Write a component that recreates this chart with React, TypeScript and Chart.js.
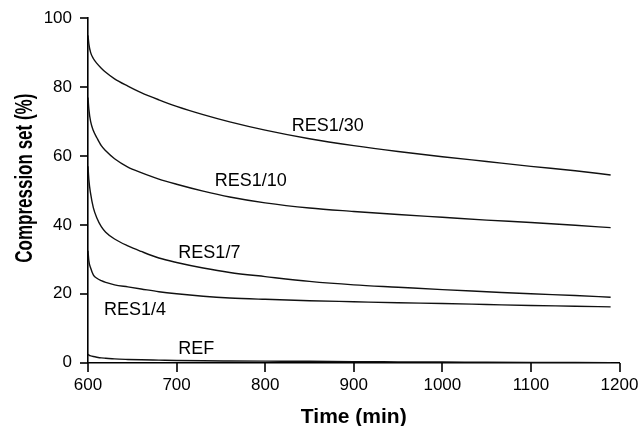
import React, { useEffect, useRef } from "react";
import { Chart, registerables } from "chart.js";

Chart.register(...registerables);

const times = [600, 601, 603, 606, 610, 615, 620, 630, 645, 660, 680, 700, 730, 760, 800, 850, 900, 950, 1000, 1050, 1100, 1150, 1190];

const res30 = [95, 92.5, 90, 88.3, 86.9, 85.5, 84.3, 82.4, 80.3, 78.4, 76.3, 74.4, 72.0, 69.9, 67.5, 65.0, 63.0, 61.3, 59.8, 58.4, 57.0, 55.7, 54.5];
const res10 = [77, 73.5, 70, 67.4, 65.3, 63.0, 61.5, 59.2, 56.8, 55.2, 53.3, 51.8, 49.8, 48.1, 46.4, 44.9, 43.9, 43.0, 42.2, 41.4, 40.7, 39.9, 39.2];
const res7 = [57, 53, 49, 45, 42, 39.5, 37.9, 35.9, 33.9, 32.3, 30.4, 29.1, 27.5, 26.2, 25.0, 23.6, 22.6, 21.9, 21.2, 20.6, 20.0, 19.5, 19.0];
const res4 = [32.5, 29.5, 27.5, 25.5, 24.5, 23.8, 23.3, 22.6, 22.0, 21.4, 20.6, 20.0, 19.3, 18.8, 18.4, 18.0, 17.7, 17.4, 17.2, 16.9, 16.6, 16.4, 16.2];
const ref = [2.5, 2.2, 2.0, 1.8, 1.6, 1.4, 1.3, 1.1, 0.95, 0.85, 0.75, 0.65, 0.55, 0.5, 0.45, 0.4, 0.3, 0.25, 0.2, 0.15, 0.1, 0.05, 0];

const seriesNames = ["RES1/30", "RES1/10", "RES1/7", "RES1/4", "REF"];
const seriesValues = [res30, res10, res7, res4, ref];

// label anchor positions in data units (x = minutes, y = %)
const labelX = [830, 743, 702, 618, 702];
const labelY = [68.6, 52.7, 31.8, 15.3, 4.0];

const xTicks = [600, 700, 800, 900, 1000, 1100, 1200];
const yTicks = [0, 20, 40, 60, 80, 100];

const xTitle = "Time (min)";
const yTitle = "Compression set (%)";

const FONT = '"Liberation Sans", Arial, Helvetica, sans-serif';

const textPlugin = {
  id: "textPlugin",
  afterDraw(chart: any) {
    const ctx = chart.ctx;
    const xs = chart.scales.x;
    const ys = chart.scales.y;
    const area = chart.chartArea;
    ctx.save();
    ctx.setTransform(1, 0, 0, 1, 0, 0);
    // tick marks (outside)
    ctx.fillStyle = "#000000";
    for (const v of xTicks) {
      const px = Math.round(xs.getPixelForValue(v));
      ctx.fillRect(px - 0.8, Math.round(area.bottom), 1.6, 9);
    }
    for (const v of yTicks) {
      const py = Math.round(ys.getPixelForValue(v));
      ctx.fillRect(Math.round(area.left) - 8, py - 0.8, 8, 1.6);
    }

    ctx.font = `18px ${FONT}`;
    ctx.textAlign = "left";
    ctx.textBaseline = "middle";
    seriesNames.forEach((n, i) => {
      ctx.fillText(n, xs.getPixelForValue(labelX[i]), ys.getPixelForValue(labelY[i]));
    });
    // x title
    ctx.font = `bold 21px ${FONT}`;
    ctx.textAlign = "center";
    ctx.textBaseline = "alphabetic";
    ctx.fillText(xTitle, (area.left + area.right) / 2, area.bottom + 60);
    // y title
    ctx.save();
    ctx.translate(area.left - 63, area.top + 160);
    ctx.rotate(-Math.PI / 2);
    ctx.scale(0.81, 1.17);
    ctx.font = `bold 21px ${FONT}`;
    ctx.textAlign = "center";
    ctx.textBaseline = "middle";
    ctx.fillText(yTitle, 0, 0);
    ctx.restore();
    ctx.restore();
  },
};

export default function App() {
  const ref1 = useRef<HTMLCanvasElement | null>(null);
  useEffect(() => {
    document.body.style.margin = "0";
    const canvas = ref1.current;
    if (!canvas) return;
    const chart = new Chart(canvas, {
      type: "line",
      data: {
        datasets: seriesValues.map((vals, i) => ({
          label: seriesNames[i],
          data: times.map((t, j) => ({ x: t, y: vals[j] })),
          borderColor: "#111",
          borderWidth: 1.4,
          pointRadius: 0,
          fill: false,
          cubicInterpolationMode: "monotone" as const,
        })),
      },
      options: {
        animation: false,
        responsive: false,
        devicePixelRatio: 1,
        layout: { padding: { left: 0, right: 22.5, top: 17.5, bottom: 0 } },
        plugins: {
          legend: { display: false },
          tooltip: { enabled: false },
          title: { display: false },
        },
        scales: {
          x: {
            type: "linear",
            min: 600,
            max: 1200,
            afterBuildTicks: (s: any) => {
              s.ticks = xTicks.map((v) => ({ value: v }));
            },
            afterFit: (s: any) => {
              s.height = 63.3;
            },
            grid: { display: true, drawOnChartArea: false, drawTicks: true, tickLength: 9, color: "rgba(0,0,0,0)", tickColor: "rgba(0,0,0,0)" },
            border: { display: true, color: "#000", width: 1.6 },
            ticks: {
              color: "#000",
              font: { size: 17, family: FONT },
              padding: 3,
              maxRotation: 0,
              callback: (v: any) => String(v),
            },
          },
          y: {
            type: "linear",
            min: 0,
            max: 100,
            afterBuildTicks: (s: any) => {
              s.ticks = yTicks.map((v) => ({ value: v }));
            },
            afterFit: (s: any) => {
              s.width = 88;
            },
            grid: { display: true, drawOnChartArea: false, drawTicks: true, tickLength: 8, color: "rgba(0,0,0,0)", tickColor: "rgba(0,0,0,0)" },
            border: { display: true, color: "#000", width: 1.6 },
            ticks: {
              color: "#000",
              font: { size: 17, family: FONT },
              padding: 8,
              callback: (v: any) => String(v),
            },
          },
        },
      },
      plugins: [textPlugin],
    });
    return () => chart.destroy();
  }, []);
  return (
    <div style={{ width: 642, height: 426, overflow: "hidden", background: "#fff" }}>
      <canvas ref={ref1} width={642} height={426} style={{ display: "block" }} />
    </div>
  );
}
